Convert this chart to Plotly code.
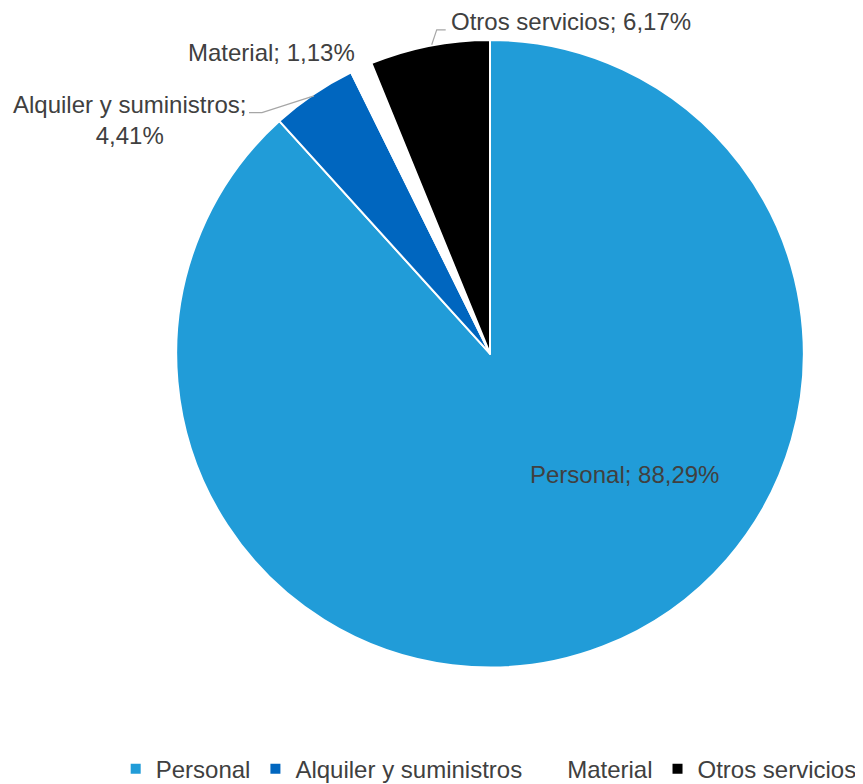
import math
import plotly.graph_objects as go

labels = ["Personal", "Alquiler y suministros", "Material", "Otros servicios"]
values = [88.29, 4.41, 1.13, 6.17]
colors = ["#219CD8", "#0066BF", "#FFFFFF", "#000000"]

W, H = 863, 784
CX, CY, R = 482, 347, 315  # pie centre / radius in figure pixels


def px(x):
    return x / W


def py(y):
    return 1 - y / H


fig = go.Figure(go.Pie(
    labels=labels,
    values=values,
    sort=False,
    direction="clockwise",
    rotation=0,
    marker=dict(colors=colors, line=dict(color="white", width=2)),
    textinfo="none",
    domain=dict(x=[px(CX - R), px(CX + R)], y=[py(CY + R), py(CY - R)]),
    hoverinfo="label+percent",
))

total = sum(values)
pct = [f"{v / total * 100:.2f}".replace(".", ",") + "%" for v in values]

# mid-angle anchor of each slice on the rim
cum = 0.0
anchors = []
for v in values:
    mid = (cum + v / 2) / total * 2 * math.pi
    anchors.append((CX + 313 * math.sin(mid), CY - 313 * math.cos(mid)))
    cum += v

font = dict(family="Liberation Sans, Arial", size=24, color="#404040")

annotations = [
    dict(x=px(616), y=py(468), text=f"{labels[0]}; {pct[0]}", showarrow=False,
         xref="paper", yref="paper", xanchor="center", yanchor="middle", font=font),
    dict(x=px(121), y=py(112), text=f"{labels[1]};<br>{pct[1]}", showarrow=False,
         xref="paper", yref="paper", xanchor="center", yanchor="middle",
         align="center", font=font),
    dict(x=px(263), y=py(45), text=f"{labels[2]}; {pct[2]}", showarrow=False,
         xref="paper", yref="paper", xanchor="center", yanchor="middle", font=font),
    dict(x=px(441), y=py(14), text=f"{labels[3]}; {pct[3]}", showarrow=False,
         xref="paper", yref="paper", xanchor="left", yanchor="middle", font=font),
]

shapes = []
line = dict(color="#A6A6A6", width=1.2)
ax, ay = anchors[3]
shapes.append(dict(type="path", xref="paper", yref="paper",
                   path=f"M {px(ax + 2)} {py(ay - 3)} L {px(ax + 7)} {py(22)} L {px(ax + 16)} {py(22)}",
                   line=line))
ax, ay = anchors[1]
shapes.append(dict(type="path", xref="paper", yref="paper",
                   path=f"M {px(ax)} {py(ay)} L {px(254)} {py(105)} L {px(241)} {py(105)}",
                   line=line))

fig.update_layout(
    width=W, height=H,
    separators=",.",
    margin=dict(l=0, r=0, t=0, b=0),
    paper_bgcolor="white",
    plot_bgcolor="white",
    font=font,
    annotations=annotations,
    shapes=shapes,
    legend=dict(
        orientation="h",
        x=0.557, xanchor="center",
        y=py(764), yanchor="middle",
        font=dict(family="Liberation Sans, Arial", size=24, color="#404040"),
        itemwidth=30,
    ),
    showlegend=True,
)

fig.write_html("out.html")
